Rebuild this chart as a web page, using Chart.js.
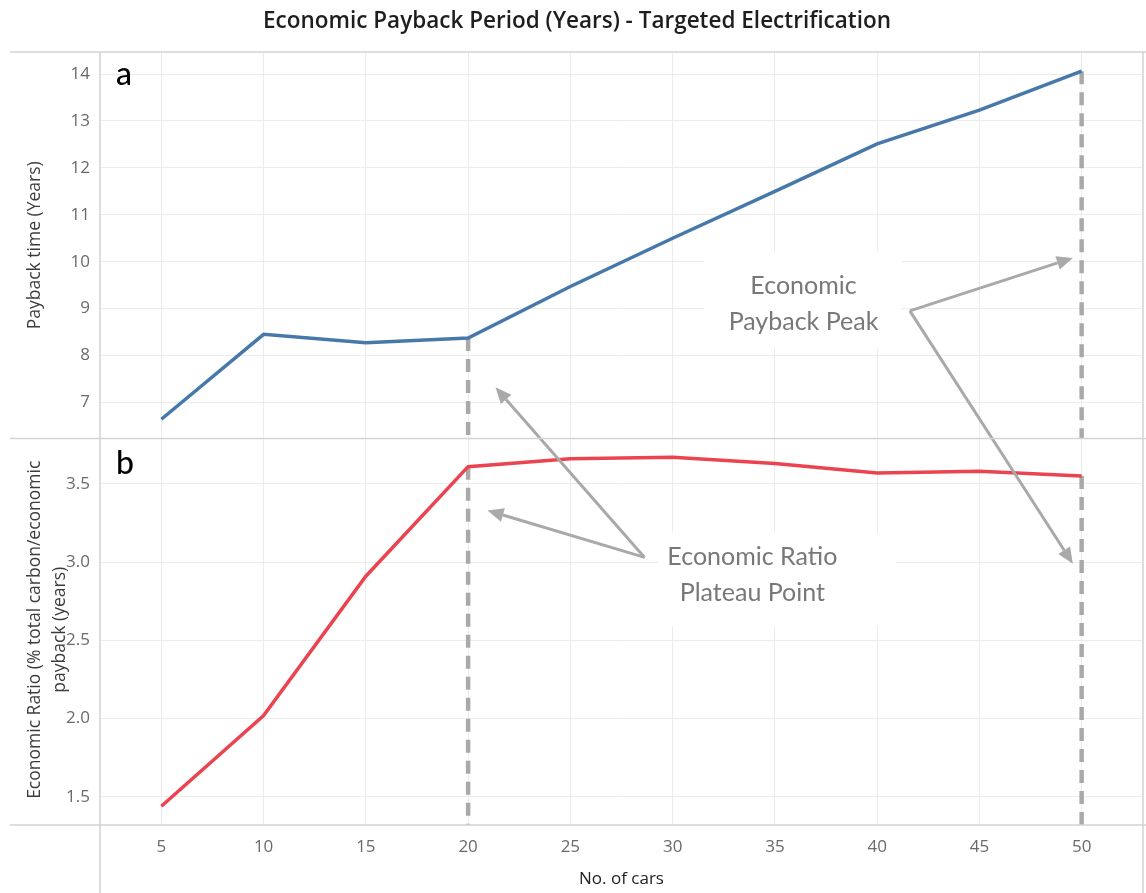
<!DOCTYPE html>
<html>
<head>
<meta charset="utf-8">
<script src="https://cdn.jsdelivr.net/npm/chart.js@4.4.1/dist/chart.umd.min.js"></script>
<style>
  html, body { margin: 0; padding: 0; background: #ffffff; }
  #wrap { position: relative; width: 1146px; height: 893px; }
</style>
</head>
<body>
<div id="wrap"><canvas id="chart" width="1146" height="893"></canvas></div>
<script>
// Number of cars electrified
const cars = [5, 10, 15, 20, 25, 30, 35, 40, 45, 50];
// (a) Economic payback time, years
const paybackYears = [6.64, 8.45, 8.27, 8.37, 9.47, 10.5, 11.5, 12.51, 13.23, 14.06];
// (b) Economic ratio (% total carbon / economic payback)
const economicRatio = [1.44, 2.02, 2.91, 3.61, 3.66, 3.67, 3.63, 3.57, 3.58, 3.55];

// Tick labels
const xTicks = [5, 10, 15, 20, 25, 30, 35, 40, 45, 50];
const paybackTicks = [7, 8, 9, 10, 11, 12, 13, 14];
const ratioTicks = [1.5, 2.0, 2.5, 3.0, 3.5];

// Marked points: plateau (index 3) and peak (index 9)
const plateauIdx = 3;
const peakIdx = 9;

const X_MIN = 2, X_MAX = 53;
const TOP_MIN = 6.23, TOP_MAX = 14.47;
const BOT_MIN = 1.32, BOT_MAX = 3.79;

const GRAY_TEXT = '#6a6a6a';
const GRID = '#ececec';
const FRAME = '#d4d4d4';
const ANNO = '#a9a9a9';
const FONT = "'Open Sans', 'Noto Sans', sans-serif";

const lineTop = cars.map((c, i) => ({ x: c, y: paybackYears[i] }));
const lineBot = cars.map((c, i) => ({ x: c, y: economicRatio[i] }));

function dropLine(xv, yv, minv, axis) {
  return {
    data: [{ x: xv, y: yv }, { x: xv, y: minv }],
    yAxisID: axis,
    borderColor: ANNO,
    borderWidth: 4.5,
    borderDash: [13, 8],
    pointRadius: 0,
    fill: false
  };
}

// Callout labels and arrows (in data coordinates)
const callouts = [
  { axis: 'yTop', lines: ['Economic', 'Payback Peak'], x: 36.4, y: [9.48, 8.71],
    box: { x0: 31.55, x1: 41.2, y0: 10.2, y1: 8.15 } },
  { axis: 'yBot', lines: ['Economic Ratio', 'Plateau Point'], x: 33.9, y: [3.03, 2.80],
    box: { x0: 29.3, x1: 40.9, y0: 3.19, y1: 2.59 } }
];
const arrows = [
  { from: { x: 41.6, y: 8.95, axis: 'yTop' }, to: { x: 49.57, y: 10.08, axis: 'yTop' } },
  { from: { x: 41.6, y: 8.95, axis: 'yTop' }, to: { x: 49.57, y: 2.99, axis: 'yBot' } },
  { from: { x: 28.63, y: 3.03, axis: 'yBot' }, to: { x: 21.34, y: 7.32, axis: 'yTop' } },
  { from: { x: 28.63, y: 3.03, axis: 'yBot' }, to: { x: 20.95, y: 3.33, axis: 'yBot' } }
];

const decor = {
  id: 'decor',
  beforeDatasetsDraw(chart) {
    const ctx = chart.ctx;
    const xs = chart.scales.x;
    ctx.save();
    ctx.fillStyle = '#ffffff';
    callouts.forEach(c => {
      const ys = chart.scales[c.axis];
      const x0 = xs.getPixelForValue(c.box.x0), x1 = xs.getPixelForValue(c.box.x1);
      const y0 = ys.getPixelForValue(c.box.y0), y1 = ys.getPixelForValue(c.box.y1);
      ctx.fillRect(x0, y0, x1 - x0, y1 - y0);
    });
    ctx.restore();
  },
  afterDatasetsDraw(chart) {
    const ctx = chart.ctx;
    const xs = chart.scales.x;
    ctx.save();
    // arrows
    ctx.strokeStyle = ANNO;
    ctx.fillStyle = ANNO;
    ctx.lineWidth = 3;
    arrows.forEach(a => {
      const x1 = xs.getPixelForValue(a.from.x), y1 = chart.scales[a.from.axis].getPixelForValue(a.from.y);
      const x2 = xs.getPixelForValue(a.to.x), y2 = chart.scales[a.to.axis].getPixelForValue(a.to.y);
      const ang = Math.atan2(y2 - y1, x2 - x1);
      const head = 16, half = 7;
      const bx = x2 - head * Math.cos(ang), by = y2 - head * Math.sin(ang);
      ctx.beginPath();
      ctx.moveTo(x1, y1);
      ctx.lineTo(bx, by);
      ctx.stroke();
      ctx.beginPath();
      ctx.moveTo(x2, y2);
      ctx.lineTo(bx + half * Math.sin(ang), by - half * Math.cos(ang));
      ctx.lineTo(bx - half * Math.sin(ang), by + half * Math.cos(ang));
      ctx.closePath();
      ctx.fill();
    });
    // callout text
    ctx.fillStyle = '#787878';
    ctx.font = "25px Lato, 'Open Sans', sans-serif";
    ctx.textAlign = 'center';
    ctx.textBaseline = 'middle';
    callouts.forEach(c => {
      const ys = chart.scales[c.axis];
      c.lines.forEach((t, i) => ctx.fillText(t, xs.getPixelForValue(c.x), ys.getPixelForValue(c.y[i])));
    });
    ctx.restore();
  },
  afterDraw(chart) {
    const ctx = chart.ctx;
    const a = chart.chartArea;
    const yTop = chart.scales.yTop, yBot = chart.scales.yBot;
    ctx.save();
    // frame
    ctx.strokeStyle = FRAME;
    ctx.lineWidth = 1.5;
    ctx.beginPath();
    [a.top, yTop.bottom, a.bottom].forEach(y => { ctx.moveTo(10, y); ctx.lineTo(chart.width, y); });
    ctx.moveTo(a.left, a.top); ctx.lineTo(a.left, chart.height);
    ctx.moveTo(a.right, a.top); ctx.lineTo(a.right, chart.height);
    ctx.stroke();

    // title
    ctx.fillStyle = '#1e1e1e';
    ctx.font = "600 22.5px 'Open Sans', sans-serif";
    ctx.textAlign = 'center';
    ctx.textBaseline = 'middle';
    ctx.fillText('Economic Payback Period (Years) - Targeted Electrification', 577, 22);

    // panel letters
    ctx.fillStyle = '#000000';
    ctx.font = "500 32px Lato, 'Open Sans', sans-serif";
    ctx.textAlign = 'left';
    ctx.fillText('a', a.left + 16, yTop.top + 23);
    ctx.fillText('b', a.left + 16, yBot.top + 25);

    // axis titles
    ctx.fillStyle = '#3c3c3c';
    ctx.font = "17.5px 'Open Sans', sans-serif";
    ctx.textAlign = 'center';
    ctx.save();
    ctx.translate(35, (yTop.top + yTop.bottom) / 2);
    ctx.rotate(-Math.PI / 2);
    ctx.fillText('Payback time (Years)', 0, 0);
    ctx.restore();
    ctx.save();
    ctx.translate(35, (yBot.top + yBot.bottom) / 2 - 2);
    ctx.rotate(-Math.PI / 2);
    ctx.fillText('Economic Ratio (% total carbon/economic', 0, 0);
    ctx.fillText('payback (years)', 0, 25);
    ctx.restore();
    ctx.restore();
  }
};

const chart = new Chart(document.getElementById('chart'), {
  type: 'line',
  data: {
    datasets: [
      { data: lineTop, yAxisID: 'yTop', borderColor: '#4678aa', borderWidth: 3.5, pointRadius: 0, fill: false },
      { data: lineBot, yAxisID: 'yBot', borderColor: '#ea4450', borderWidth: 3.5, pointRadius: 0, fill: false },
      dropLine(cars[plateauIdx], paybackYears[plateauIdx], TOP_MIN, 'yTop'),
      dropLine(cars[peakIdx], paybackYears[peakIdx], TOP_MIN, 'yTop'),
      dropLine(cars[plateauIdx], economicRatio[plateauIdx], BOT_MIN, 'yBot'),
      dropLine(cars[peakIdx], economicRatio[peakIdx], BOT_MIN, 'yBot')
    ]
  },
  options: {
    responsive: false,
    animation: false,
    devicePixelRatio: 1,
    layout: { padding: { top: 52, left: 0, right: 3, bottom: 0 } },
    plugins: { legend: { display: false }, tooltip: { enabled: false }, title: { display: false } },
    scales: {
      x: {
        type: 'linear', min: X_MIN, max: X_MAX,
        afterBuildTicks: s => { s.ticks = xTicks.map(v => ({ value: v })); },
        afterFit: s => { s.height = 68; },
        grid: { color: GRID, drawTicks: false },
        border: { display: false },
        ticks: { color: GRAY_TEXT, font: { family: FONT, size: 17 }, padding: 12, maxRotation: 0 },
        title: { display: true, text: 'No. of cars', color: '#222222', font: { family: FONT, size: 17 }, padding: { top: 4 } }
      },
      // lower panel axis is listed first so it stacks beneath the upper one
      yBot: {
        type: 'linear', position: 'left', stack: 'panels', stackWeight: 1,
        min: BOT_MIN, max: BOT_MAX,
        afterBuildTicks: s => { s.ticks = ratioTicks.map(v => ({ value: v })); },
        afterFit: s => { s.width = 100; },
        grid: { color: GRID, drawTicks: false },
        border: { display: false },
        ticks: { color: GRAY_TEXT, font: { family: FONT, size: 17 }, padding: 10, callback: v => Number(v).toFixed(1) }
      },
      yTop: {
        type: 'linear', position: 'left', stack: 'panels', stackWeight: 1,
        min: TOP_MIN, max: TOP_MAX,
        afterBuildTicks: s => { s.ticks = paybackTicks.map(v => ({ value: v })); },
        afterFit: s => { s.width = 100; },
        grid: { color: GRID, drawTicks: false },
        border: { display: false },
        ticks: { color: GRAY_TEXT, font: { family: FONT, size: 17 }, padding: 10 }
      }
    }
  },
  plugins: [decor]
});
</script>
</body>
</html>
